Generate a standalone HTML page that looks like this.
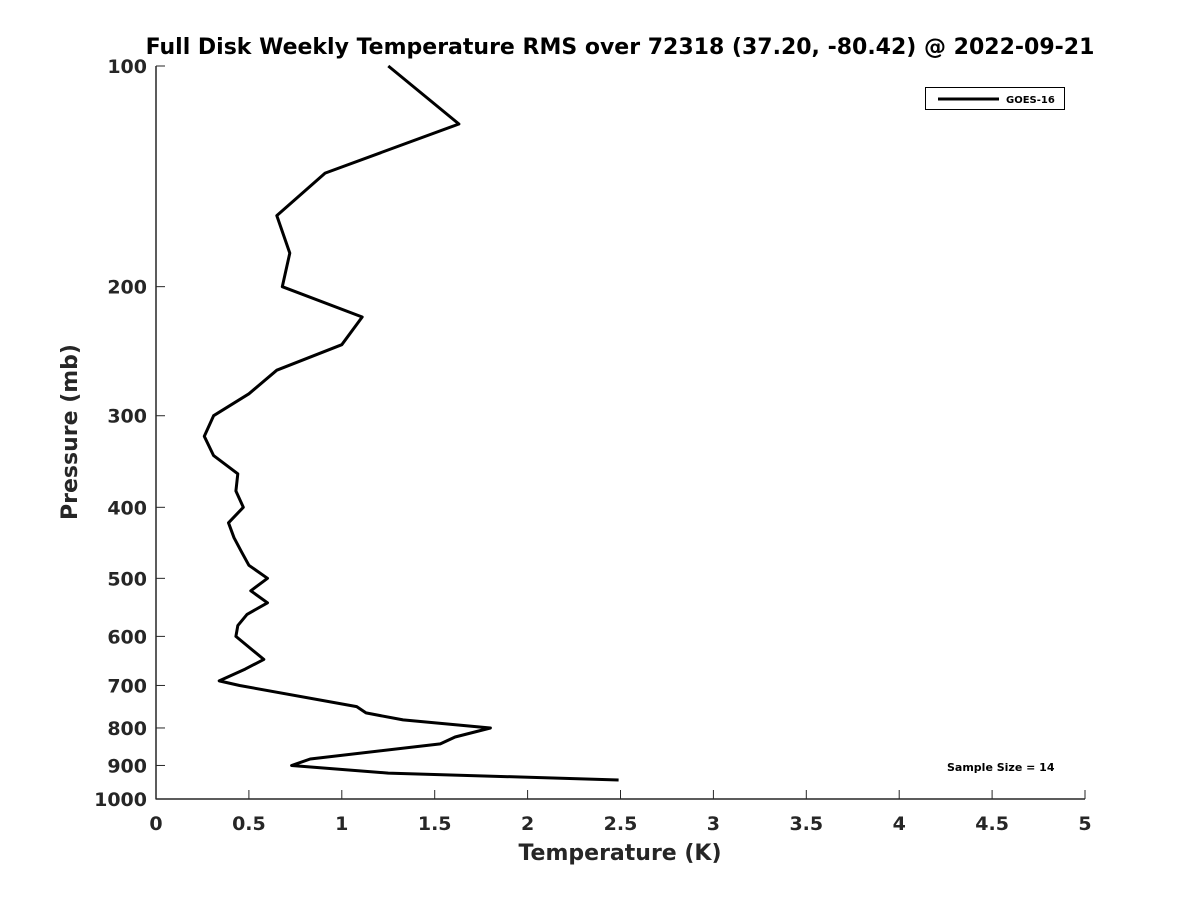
<!DOCTYPE html>
<html><head><meta charset="utf-8"><style>
body{margin:0;background:#fff}
svg text{font-family:"DejaVu Sans","Liberation Sans",sans-serif;font-weight:bold;fill:#262626}
</style></head><body>
<svg id="chart" width="1200" height="900" xmlns="http://www.w3.org/2000/svg">
<rect width="1200" height="900" fill="#fff"/>
<text x="620" y="54" text-anchor="middle" font-size="22" style="fill:#000">Full Disk Weekly Temperature RMS over 72318 (37.20, -80.42) @ 2022-09-21</text>
<g id="axes"></g>
<path id="series" fill="none" stroke="#000" stroke-width="3" stroke-linejoin="round"/>
<g>
<rect x="925.5" y="87.5" width="139" height="22" fill="#fff" stroke="#000" stroke-width="1"/>
<line x1="938" y1="99" x2="999" y2="99" stroke="#000" stroke-width="3"/>
<text x="1006" y="103" font-size="10" style="fill:#000">GOES-16</text>
</g>
<text x="947" y="771" font-size="11" style="fill:#000">Sample Size = 14</text>
<text x="620" y="860" text-anchor="middle" font-size="22">Temperature (K)</text>
<text transform="translate(77,432) rotate(-90)" text-anchor="middle" font-size="22">Pressure (mb)</text>
</svg>
<script>
const temps=[1.25,1.63,0.91,0.65,0.72,0.68,1.11,1.0,0.65,0.5,0.31,0.26,0.31,0.44,0.43,0.47,0.39,0.42,0.46,0.5,0.6,0.51,0.6,0.49,0.44,0.43,0.58,0.48,0.34,0.45,1.08,1.13,1.33,1.8,1.61,1.53,0.83,0.73,1.25,2.49];
const pressures=[100,120,140,160,180,200,220,240,260,280,300,320,340,360,380,400,420,440,460,480,500,520,540,560,580,600,645,665,690,700,748,763,780,800,823,841,882,900,922,942];
const xTicks=[0,0.5,1,1.5,2,2.5,3,3.5,4,4.5,5];
const xTickLabels=["0","0.5","1","1.5","2","2.5","3","3.5","4","4.5","5"];
const yTicks=[100,200,300,400,500,600,700,800,900,1000];
const yTickLabels=["100","200","300","400","500","600","700","800","900","1000"];
const X0=156,X1=1085,Y0=66,Y1=799;
function xs(v){return X0+(v-0)/(5-0)*(X1-X0);}
function ys(p){return Y0+(Math.log10(p)-2)/(1)*(Y1-Y0);}
const NS="http://www.w3.org/2000/svg";
const ax=document.getElementById('axes');
function mk(t,a){const e=document.createElementNS(NS,t);for(const k in a)e.setAttribute(k,a[k]);ax.appendChild(e);return e;}
let e=mk('line',{x1:X0,y1:Y0,x2:X0,y2:Y1+0.5,stroke:'#262626','stroke-width':1.5});


e=mk('line',{x1:X0,y1:Y1,x2:X1,y2:Y1,stroke:'#262626','stroke-width':1.5});


xTicks.forEach((v,i)=>{
 const x=xs(v);
 let t=mk('line',{x1:x,y1:Y1,x2:x,y2:Y1-9,stroke:'#262626','stroke-width':1});
 
 
 let l=mk('text',{x:x,y:Y1+31,'text-anchor':'middle','font-size':19});
 l.textContent=xTickLabels[i];
 
 
});
yTicks.forEach((v,i)=>{
 const y=ys(v);
 let t=mk('line',{x1:X0,y1:y,x2:X0+9,y2:y,stroke:'#262626','stroke-width':1});
 
 
 let l=mk('text',{x:X0-9,y:y+7,'text-anchor':'end','font-size':19});
 l.textContent=yTickLabels[i];
 
 
});
document.getElementById('series').setAttribute('d',temps.map((t,i)=>(i?'L':'M')+xs(t).toFixed(1)+' '+ys(pressures[i]).toFixed(1)).join(' '));
</script>
</body></html>
